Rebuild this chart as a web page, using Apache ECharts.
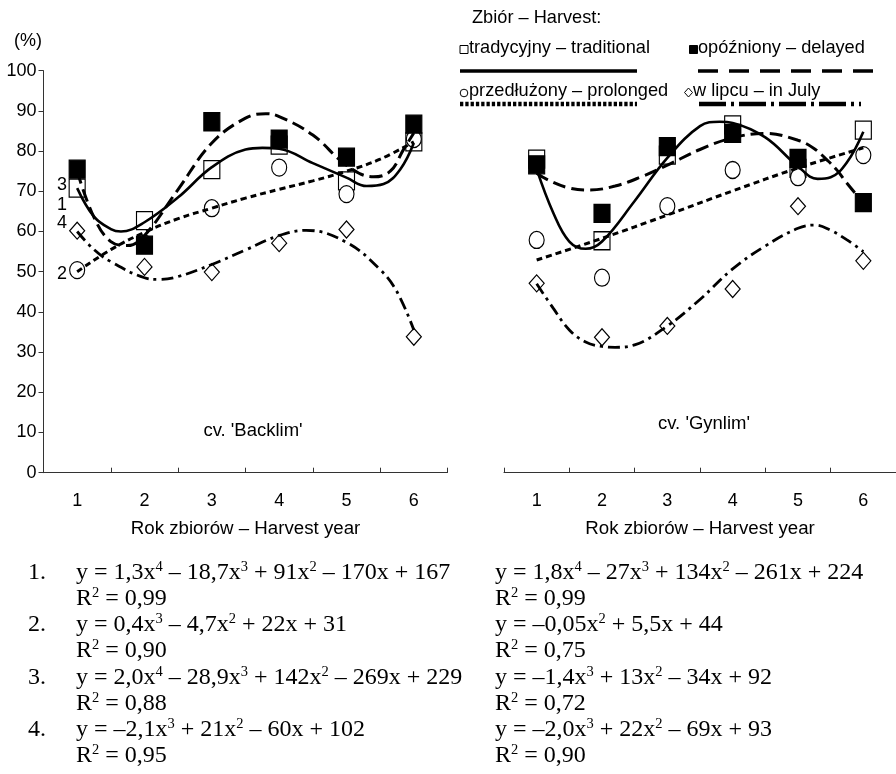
<!DOCTYPE html>
<html><head><meta charset="utf-8">
<script src="https://cdn.jsdelivr.net/npm/echarts@6/dist/echarts.min.js"></script>
<style>html,body{margin:0;padding:0;background:#fff}#c{width:896px;height:774px}</style>
</head><body><div id="c"></div>
<script>
// ---- data ----
const years = ['1', '2', '3', '4', '5', '6'];

// cv. 'Backlim' – observed values (%)
const backlimTraditional = [70.8, 62.7, 75.4, 81.5, 72.6, 82.3];
const backlimProlonged   = [50.4, 57.0, 65.8, 75.9, 69.3, 83.0];
const backlimDelayed     = [75.5, 56.6, 87.3, 83.0, 78.5, 86.7];
const backlimJuly        = [60.2, 51.2, 49.9, 57.1, 60.5, 33.8];

// cv. 'Gynlim' – observed values (%)
const gynlimTraditional = [78.0, 57.7, 79.0, 86.5, 75.7, 85.2];
const gynlimProlonged   = [57.9, 48.5, 66.3, 75.3, 73.5, 79.0];
const gynlimDelayed     = [76.6, 64.5, 81.1, 84.4, 78.2, 67.2];
const gynlimJuly        = [47.1, 33.7, 36.5, 45.7, 66.3, 52.7];

// trend curves: [year, %]
const backlimTraditionalTrend = [[1,70.8],[1.25,63.7],[1.5,60.6],[1.65,60.0],[2,62.3],[2.5,68.5],[3,76.0],[3.5,80.4],[3.75,80.8],[4,80.6],[4.5,77.0],[5,73.4],[5.3,71.3],[5.55,71.8],[5.8,75.5],[6,82.0]];
const backlimProlongedTrend   = [[1,50.0],[1.5,55.5],[2,59.8],[2.5,63.2],[3,65.8],[3.5,68.3],[4,70.5],[4.5,72.6],[5,75.0],[5.5,78.0],[6,82.3]];
const backlimDelayedTrend     = [[1,75.0],[1.25,63.5],[1.5,57.5],[1.75,56.5],[2,59.0],[2.5,70.5],[3,82.0],[3.5,88.2],[3.8,89.3],[4,88.6],[4.5,84.0],[5,76.5],[5.4,73.6],[5.65,75.0],[5.85,80.5],[6,84.5]];
const backlimJulyTrend        = [[1,60.0],[1.25,55.5],[1.5,52.5],[2,48.5],[2.2,48.1],[2.5,48.8],[3,51.8],[3.5,55.4],[4,59.0],[4.4,60.3],[5,57.3],[5.5,50.5],[5.75,45.0],[6,35.5]];

const gynlimTraditionalTrend = [[1,75.5],[1.25,64.8],[1.5,57.5],[1.75,55.7],[2,57.5],[2.5,67.6],[3,78.3],[3.5,86.2],[3.8,87.3],[4,87.0],[4.5,83.4],[5,76.2],[5.3,73.1],[5.5,73.5],[5.75,77.2],[6,84.8]];
const gynlimProlongedTrend   = [[1,52.9],[2,58.3],[3,64.1],[4,70.1],[5,75.8],[6,80.8]];
const gynlimDelayedTrend     = [[1,74.5],[1.2,72.6],[1.5,70.8],[1.8,70.3],[2.2,71.3],[2.6,73.6],[3,76.5],[3.5,80.4],[4,83.3],[4.5,84.4],[5,82.7],[5.25,80.6],[5.45,77.7],[5.6,75.2],[5.75,72.0],[5.9,69.1],[6,67.5]];
const gynlimJulyTrend        = [[1,47.0],[1.25,41.0],[1.5,35.5],[1.75,32.5],[2,31.4],[2.2,31.2],[2.5,31.8],[3,36.5],[3.5,43.1],[4,50.7],[4.5,56.4],[5,60.8],[5.25,61.6],[5.5,60.3],[5.75,57.9],[6,55.0]];

const legendTitle = 'Zbiór – Harvest:';
const legendNames = ['tradycyjny – traditional', 'opóźniony – delayed', 'przedłużony – prolonged', 'w lipcu – in July'];
const cultivarNames = ["cv. 'Backlim'", "cv. 'Gynlim'"];
const xAxisName = 'Rok zbiorów – Harvest year';
const curveNumbers = ['3', '1', '4', '2'];
const eqNumbers = ['1.', '2.', '3.', '4.'];
const eqLeft = [
  'y = 1,3x{s|4} – 18,7x{s|3} + 91x{s|2} – 170x + 167', 'R{s|2} = 0,99',
  'y = 0,4x{s|3} – 4,7x{s|2} + 22x + 31', 'R{s|2} = 0,90',
  'y = 2,0x{s|4} – 28,9x{s|3} + 142x{s|2} – 269x + 229', 'R{s|2} = 0,88',
  'y = –2,1x{s|3} + 21x{s|2} – 60x + 102', 'R{s|2} = 0,95'
];
const eqRight = [
  'y = 1,8x{s|4} – 27x{s|3} + 134x{s|2} – 261x + 224', 'R{s|2} = 0,99',
  'y = –0,05x{s|2} + 5,5x + 44', 'R{s|2} = 0,75',
  'y = –1,4x{s|3} + 13x{s|2} – 34x + 92', 'R{s|2} = 0,72',
  'y = –2,0x{s|3} + 22x{s|2} – 69x + 93', 'R{s|2} = 0,90'
];

// ---- chart ----
const SANS = 'Liberation Sans, Arial, sans-serif';
const SERIF = 'Liberation Serif, Times New Roman, serif';
const chart = echarts.init(document.getElementById('c'), null, {renderer: 'canvas'});

const markerStyles = {
  traditional: {symbol: 'rect', size: [16, 18], fill: '#fff', z: 3},
  prolonged:   {symbol: 'circle', size: [15, 17], fill: '#fff', z: 4},
  delayed:     {symbol: 'rect', size: [16, 18], fill: '#000', z: 5},
  july:        {symbol: 'diamond', size: [15, 17], fill: '#fff', z: 2}
};
const lineStyles = {
  traditional: {color: '#000', width: 2.6, type: 'solid'},
  prolonged:   {color: '#000', width: 3, type: [6, 4]},
  delayed:     {color: '#000', width: 3, type: [13, 6]},
  july:        {color: '#000', width: 2.8, type: [12, 5, 3, 5]}
};

function markers(vals, gi, st) {
  return {type: 'scatter', xAxisIndex: gi * 2 + 1, yAxisIndex: gi,
    data: vals.map((v, i) => [i + 1, v]), symbol: st.symbol, symbolSize: st.size,
    itemStyle: {color: st.fill, borderColor: '#000', borderWidth: 1.2, opacity: 1},
    z: st.z, silent: true};
}
function trend(pts, gi, ls) {
  return {type: 'line', xAxisIndex: gi * 2 + 1, yAxisIndex: gi, data: pts,
    smooth: 0.4, showSymbol: false, symbol: 'none', lineStyle: ls, z: 10, silent: true};
}

const series = [];
[[backlimTraditional, backlimProlonged, backlimDelayed, backlimJuly,
  backlimTraditionalTrend, backlimProlongedTrend, backlimDelayedTrend, backlimJulyTrend],
 [gynlimTraditional, gynlimProlonged, gynlimDelayed, gynlimJuly,
  gynlimTraditionalTrend, gynlimProlongedTrend, gynlimDelayedTrend, gynlimJulyTrend]
].forEach((d, gi) => {
  const keys = ['traditional', 'prolonged', 'delayed', 'july'];
  keys.forEach((k, j) => series.push(markers(d[j], gi, markerStyles[k])));
  keys.forEach((k, j) => series.push(trend(d[j + 4], gi, lineStyles[k])));
});

function catAxis(gi) {
  return {type: 'category', gridIndex: gi, data: years, boundaryGap: true,
    axisLine: {show: true, lineStyle: {color: '#333', width: 1}},
    axisTick: {show: true, inside: true, length: 5, interval: 0, lineStyle: {color: '#333'}},
    axisLabel: {show: true, color: '#000', fontSize: 18, fontFamily: SANS, margin: 19, interval: 0},
    name: xAxisName, nameLocation: 'middle', nameGap: 47,
    nameTextStyle: {color: '#000', fontSize: 18.7, fontFamily: SANS},
    splitLine: {show: false}};
}
function valAxis(gi) {
  return {type: 'value', gridIndex: gi, min: 0.5, max: 6.5, show: false, splitLine: {show: false}};
}

const graphic = [];
function txt(x, y, text, size, family, align, extra) {
  graphic.push(Object.assign({type: 'text', x: x, y: y, silent: true,
    style: {text: text, fontSize: size, fontFamily: family, fill: '#000',
      align: align || 'left', verticalAlign: 'middle'}}, extra || {}));
}
txt(28, 41, '(%)', 18, SANS, 'center');
const numY = [185, 205, 223, 274];
curveNumbers.forEach((n, i) => txt(62, numY[i], n, 18, SANS, 'center'));
txt(253, 431, cultivarNames[0], 18.5, SANS, 'center');
txt(704, 424, cultivarNames[1], 18.5, SANS, 'center');

// legend
const LG = 18.2;
txt(472, 17.5, legendTitle, LG, SANS, 'left');
txt(469, 47.5, legendNames[0], LG, SANS, 'left');
txt(698, 47.5, legendNames[1], LG, SANS, 'left');
txt(469, 90.5, legendNames[2], LG, SANS, 'left');
txt(693, 90.5, legendNames[3], LG, SANS, 'left');
graphic.push({type: 'rect', silent: true, shape: {x: 460, y: 45.5, width: 8, height: 8}, style: {fill: '#fff', stroke: '#000', lineWidth: 1}});
graphic.push({type: 'rect', silent: true, shape: {x: 689.5, y: 45.5, width: 8, height: 8}, style: {fill: '#000', stroke: '#000', lineWidth: 1}});
graphic.push({type: 'circle', silent: true, shape: {cx: 464, cy: 93, r: 3.8}, style: {fill: '#fff', stroke: '#000', lineWidth: 1}});
graphic.push({type: 'polygon', silent: true, shape: {points: [[688.5, 88], [692.5, 92.5], [688.5, 97], [684.5, 92.5]]}, style: {fill: '#fff', stroke: '#000', lineWidth: 1}});
function lg(x1, x2, y, w, dash) {
  graphic.push({type: 'line', silent: true, shape: {x1: x1, y1: y, x2: x2, y2: y},
    style: {stroke: '#000', lineWidth: w, lineDash: dash || null}});
}
lg(460, 637, 71, 3.5);
lg(698, 877, 71, 3.5, [20, 11]);
lg(460, 637, 104, 4.5, [3.3, 2]);
lg(699, 861, 104, 4.5, [27, 5, 3, 5]);

// equations
const eqRowY = [572, 598, 624, 650, 677, 703, 729, 755];
const rich = {s: {fontSize: 14.5, fontFamily: SERIF, fill: '#000', verticalAlign: 'top', lineHeight: 14}};
function eq(x, y, text) {
  graphic.push({type: 'text', x: x, y: y + 0.7, silent: true,
    style: {text: text, fontSize: 24, fontFamily: SERIF, fill: '#000', lineHeight: 26,
      align: 'left', verticalAlign: 'middle', rich: rich}});
}
eqLeft.forEach((t, i) => eq(76, eqRowY[i], t));
eqRight.forEach((t, i) => eq(495, eqRowY[i], t));
eqNumbers.forEach((t, i) => eq(28, eqRowY[i * 2], t));

chart.setOption({
  animation: false,
  backgroundColor: '#fff',
  grid: [
    {left: 43.5, top: 70.7, width: 404, height: 402},
    {left: 504, top: 70.7, width: 396, height: 402}
  ],
  xAxis: [catAxis(0), valAxis(0), catAxis(1), valAxis(1)],
  yAxis: [
    {type: 'value', gridIndex: 0, min: 0, max: 100, interval: 10,
      axisLine: {show: true, lineStyle: {color: '#333', width: 1}},
      axisTick: {show: true, length: 5, lineStyle: {color: '#333'}},
      axisLabel: {color: '#000', fontSize: 18, fontFamily: SANS, margin: 7},
      splitLine: {show: false}},
    {type: 'value', gridIndex: 1, min: 0, max: 100, show: false, splitLine: {show: false}}
  ],
  series: series,
  graphic: graphic
});
</script></body></html>
